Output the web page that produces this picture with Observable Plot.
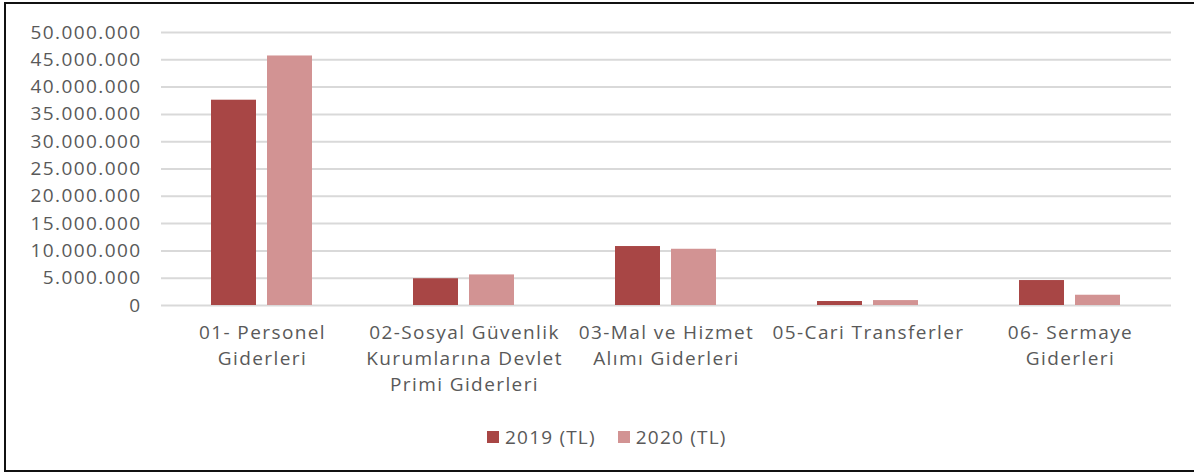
<!DOCTYPE html>
<html><head><meta charset="utf-8">
<script src="https://cdn.jsdelivr.net/npm/d3@7"></script>
<script src="https://cdn.jsdelivr.net/npm/@observablehq/plot@0.6"></script>
<style>
body{margin:0;background:#fff;font-family:"Open Sans",sans-serif;}
#wrap{position:relative;width:1194px;height:473px;overflow:hidden;}
#frame{position:absolute;left:4px;top:2px;width:1220px;height:470px;border:2px solid #111;box-sizing:border-box;pointer-events:none}
#chart{position:absolute;left:0;top:0}
#chart svg text{letter-spacing:1.4px}
#legend{position:absolute;left:487px;top:424px;display:flex;align-items:center;font-size:19px;letter-spacing:1.2px;color:#595959;white-space:nowrap}
#legend .sw{display:inline-block;width:12px;height:12px;margin-right:6px}
#legend .item{display:flex;align-items:center;margin-right:22px}
</style>
</head><body>
<div id="wrap"><div id="chart"></div><div id="legend"></div><div id="frame"></div></div>
<script>
const categories = ["01- Personel Giderleri","02-Sosyal Güvenlik Kurumlarına Devlet Primi Giderleri","03-Mal ve Hizmet Alımı Giderleri","05-Cari Transferler","06- Sermaye Giderleri"];
const categoryLabels = ["01- Personel\nGiderleri","02-Sosyal Güvenlik\nKurumlarına Devlet\nPrimi Giderleri","03-Mal ve Hizmet\nAlımı Giderleri","05-Cari Transferler","06- Sermaye\nGiderleri"];
const series = ["2019 (TL)","2020 (TL)"];
const values2019 = [37600000, 4900000, 10800000, 730000, 4570000];
const values2020 = [45700000, 5600000, 10300000, 900000, 1880000];
const yTicks = [0,5000000,10000000,15000000,20000000,25000000,30000000,35000000,40000000,45000000,50000000];
const colors = ["#A84645","#D29393"];

const data = [];
categories.forEach((c,i)=>{
  data.push({category:c, series:series[0], value:values2019[i]});
  data.push({category:c, series:series[1], value:values2020[i]});
});
const labelOf = Object.fromEntries(categories.map((c,i)=>[c,categoryLabels[i]]));
const fmt = d3.formatLocale({decimal:",",thousands:".",grouping:[3],currency:["",""]}).format(",");
const font = '"Open Sans",sans-serif';

const chart = Plot.plot({
  width:1194, height:410,
  marginLeft:160, marginRight:23, marginTop:32, marginBottom:105,
  style:{fontFamily:font, fontSize:"19px", color:"#595959", background:"transparent", overflow:"visible"},
  fx:{domain:categories, padding:0, label:null},
  x:{domain:series, paddingInner:0.193, paddingOuter:0.87, axis:null},
  y:{domain:[0,50000000], label:null},
  color:{domain:series, range:colors},
  marks:[
    Plot.ruleY(yTicks, {y:d=>d, stroke:"#d9d9d9", strokeWidth:2}),
    Plot.barY(data, {fx:"category", x:"series", y:"value", fill:"series"}),
    Plot.axisY({ticks:yTicks, tickSize:0, tickPadding:20, tickFormat:fmt, label:null, fill:"#595959"}),
    Plot.axisFx({anchor:"bottom", tickSize:0, tickPadding:15, lineHeight:1.37, tickFormat:d=>labelOf[d], label:null, fill:"#595959"})
  ]
});
document.getElementById("chart").appendChild(chart);

const legend = document.getElementById("legend");
series.forEach((s,i)=>{
  const item = document.createElement("div"); item.className="item";
  const sw = document.createElement("span"); sw.className="sw"; sw.style.background=colors[i];
  const t = document.createElement("span"); t.textContent=s;
  item.appendChild(sw); item.appendChild(t); legend.appendChild(item);
});
</script>
</body></html>
